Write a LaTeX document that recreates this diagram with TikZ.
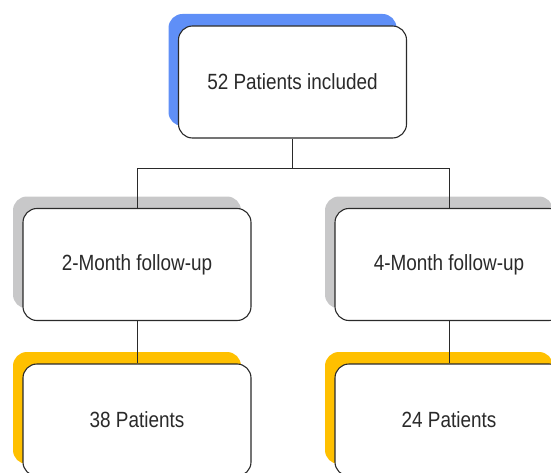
\documentclass[tikz,border=0pt]{standalone}
\usepackage{fontspec}
\setmainfont{Liberation Sans}[FakeStretch=0.86]
\usetikzlibrary{shadows}
\definecolor{sblue}{HTML}{5F8FF7}
\definecolor{sgray}{HTML}{C8C8C9}
\definecolor{syellow}{HTML}{FFC000}
\definecolor{ink}{HTML}{2A2A2A}
\tikzset{
  box/.style={draw=ink, line width=1.1pt, fill=white, rounded corners=14pt,
    minimum width=228pt, minimum height=112pt, inner sep=0pt,
    font=\fontsize{22}{25}\selectfont, text=ink},
  bshadow/.style={copy shadow={shadow xshift=-10pt, shadow yshift=12pt, fill=#1, draw=none}},
  link/.style={draw=ink, line width=0.9pt}
}
\begin{document}
\begin{tikzpicture}[x=1pt,y=-1pt]
\useasboundingbox (0,0) rectangle (551,473);
\clip (0,0) rectangle (551,473);
\node[box, bshadow=sblue] (top) at (292.5,82) {52 Patients included};
\node[box, bshadow=sgray] (m2) at (137,264.5) {2-Month follow-up};
\node[box, bshadow=sgray] (m4) at (449,264.5) {4-Month follow-up};
\node[box, bshadow=syellow] (p38) at (137,420) {38 Patients};
\node[box, bshadow=syellow] (p24) at (449,420) {24 Patients};
\draw[link] (top.south) -- ++(0,30) coordinate (j);
\draw[link] (j) -| (m2.north);
\draw[link] (j) -| (m4.north);
\draw[link] (m2.south) -- (p38.north);
\draw[link] (m4.south) -- (p24.north);
\end{tikzpicture}
\end{document}
